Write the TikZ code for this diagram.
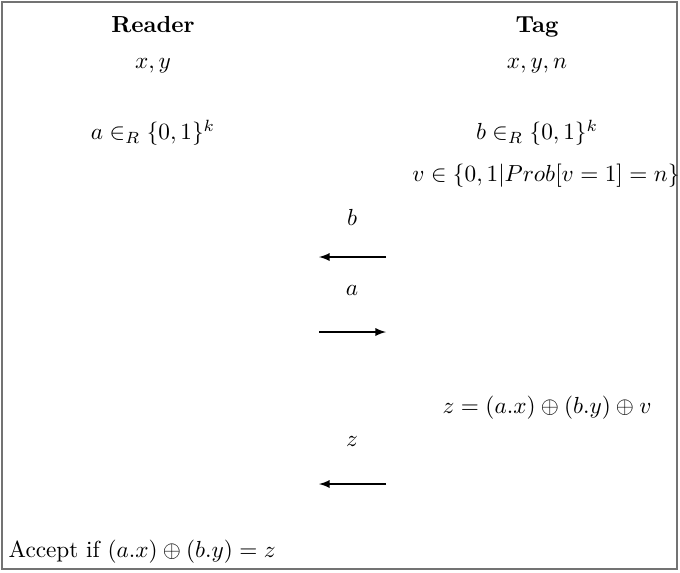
\documentclass[tikz,border=0pt]{standalone}
\usepackage{amsmath}
\usepackage{amssymb}
\usepackage{xcolor}
\definecolor{framegray}{gray}{0.45}

\begin{document}
\begin{tikzpicture}[x=0.43pt, y=-0.43pt, inner sep=0pt, line width=0.6pt,
    msg/.style={-latex, black, line width=0.6pt},
    party/.style={font=\bfseries, anchor=base}]
    \useasboundingbox (0,0) rectangle (680,572); 
    \draw[framegray, line width=0.8pt] (2,2) rectangle (677,569); 
    \node[party] (reader) at (153,32) {Reader}; 
    \node[party] (tag) at (537,32) {Tag}; 
    \node (rkeys) at (153,66) {$x,y$}; 
    \node (tkeys) at (537,66) {$x,y,n$}; 
    \node (rnonce) at (153,133) {$a \in_R \{0,1\}^k$}; 
    \node (tnonce) at (537,133) {$b \in_R \{0,1\}^k$}; 
    \node (tnoise) at (546,176) {$v \in \{0,1|Prob[v=1]=n\}$}; 
    \node (lb) at (352,217) {$b$}; 
    \coordinate (b1) at (386,257); 
    \coordinate (b2) at (319,257); 
    \draw[msg] (b1) -- (b2); 
    \node (la) at (352,290) {$a$}; 
    \coordinate (a1) at (319,332); 
    \coordinate (a2) at (386,332); 
    \draw[msg] (a1) -- (a2); 
    \node (tresp) at (547,408) {$z=(a.x)\oplus(b.y)\oplus v$}; 
    \node (lz) at (352,441) {$z$}; 
    \coordinate (z1) at (386,484); 
    \coordinate (z2) at (319,484); 
    \draw[msg] (z1) -- (z2); 
    \node[anchor=west] (check) at (8,552) {Accept if $(a.x)\oplus(b.y)=z$}; 
\end{tikzpicture}
\end{document}
